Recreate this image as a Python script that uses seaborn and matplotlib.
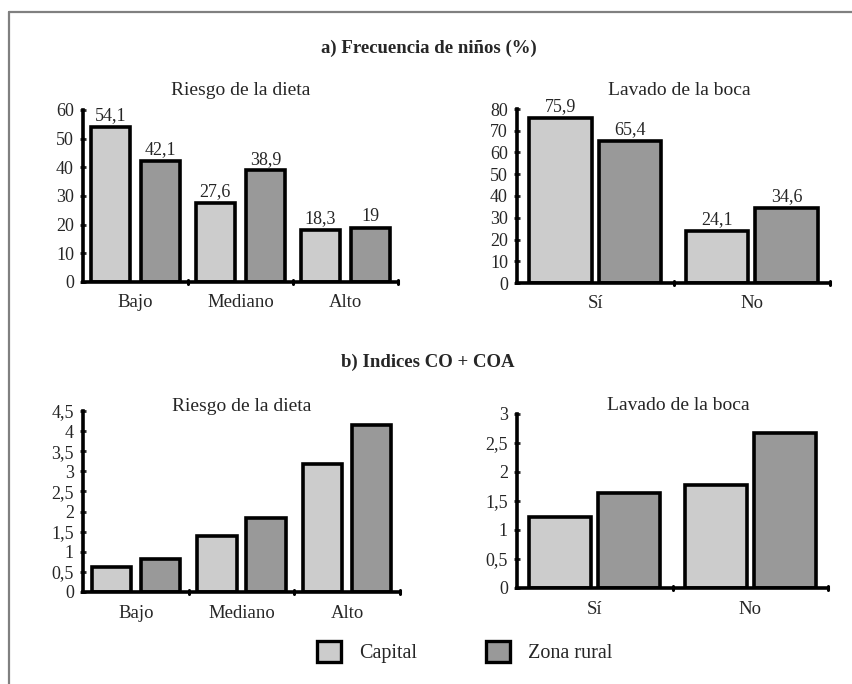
import matplotlib
matplotlib.use("Agg")
import matplotlib.pyplot as plt
import seaborn as sns
import pandas as pd
from matplotlib.patches import Patch
from matplotlib.lines import Line2D

sns.set_style("white")
plt.rcParams['font.family'] = ['Liberation Serif', 'DejaVu Serif']

groups = ["Capital", "Zona rural"]
diet_cats = ["Bajo", "Mediano", "Alto"]
wash_cats = ["Sí", "No"]

freq_diet_capital = [54.1, 27.6, 18.3]
freq_diet_rural = [42.1, 38.9, 19.0]
freq_wash_capital = [75.9, 24.1]
freq_wash_rural = [65.4, 34.6]

idx_diet_capital = [0.63, 1.38, 3.18]
idx_diet_rural = [0.83, 1.85, 4.15]
idx_wash_capital = [1.22, 1.77]
idx_wash_rural = [1.63, 2.67]

colors = {"Capital": "#cccccc", "Zona rural": "#999999"}


def fmt(v):
    s = f"{v:g}"
    return s.replace(".", ",")


def long_df(cats, cap, rur):
    return pd.DataFrame({
        "cat": cats * 2,
        "grupo": ["Capital"] * len(cats) + ["Zona rural"] * len(cats),
        "val": list(cap) + list(rur),
    })


fig = plt.figure(figsize=(8.52, 6.84), dpi=100)

# partial frame (left and top)
fig.add_artist(Line2D([8.5 / 852, 8.5 / 852], [0, 1 - 12 / 684], transform=fig.transFigure,
                      color="#808080", lw=1.6))
fig.add_artist(Line2D([8.5 / 852, 1], [1 - 12 / 684, 1 - 12 / 684], transform=fig.transFigure,
                      color="#808080", lw=1.6))


def px_axes(x0, x1, ytop, ybot):
    return fig.add_axes([x0 / 852, 1 - ybot / 684, (x1 - x0) / 852, (ybot - ytop) / 684])


def draw(ax, cats, cap, rur, ymax, ticks, width, gap, title, title_pad, title_x, labels):
    df = long_df(cats, cap, rur)
    sns.barplot(data=df, x="cat", y="val", hue="grupo", order=cats, hue_order=groups,
                palette=colors, width=width, gap=gap, edgecolor="black", linewidth=2.6,
                legend=False, ax=ax, saturation=1)
    ax.set_ylim(0, ymax)
    ax.set_xlim(-0.5, len(cats) - 0.5)
    ax.set_yticks(ticks)
    ax.set_yticklabels([fmt(t) for t in ticks], fontsize=13)
    ax.set_xticks([i for i in range(len(cats))])
    ax.set_xticklabels(cats, fontsize=13.5)
    ax.tick_params(axis="x", length=0, pad=9)
    ax.tick_params(axis="y", direction="inout", length=5, width=2, left=True, pad=4)
    # category separators on x-axis
    for b in range(1, len(cats) + 1):
        ax.add_line(Line2D([b - 0.5, b - 0.5], [-0.012 * ymax, 0.012 * ymax], color="black", lw=2.2,
                           clip_on=False))
    for s in ["top", "right"]:
        ax.spines[s].set_visible(False)
    for s in ["left", "bottom"]:
        ax.spines[s].set_linewidth(2.6)
        ax.spines[s].set_color("black")
    ax.set_xlabel("")
    ax.set_ylabel("")
    ax.set_title(title, fontsize=14, pad=title_pad, x=title_x)
    ax.grid(False)
    if labels:
        for cont in ax.containers:
            ax.bar_label(cont, labels=[fmt(v) for v in cont.datavalues], fontsize=13, padding=2)


ax1 = px_axes(83, 398, 110, 282)
draw(ax1, diet_cats, freq_diet_capital, freq_diet_rural, 60, list(range(0, 61, 10)),
     0.96, 0.22, "Riesgo de la dieta", 11, 0.5, True)

ax2 = px_axes(517, 830, 109, 283)
draw(ax2, wash_cats, freq_wash_capital, freq_wash_rural, 80, list(range(0, 81, 10)),
     0.89, 0.1, "Lavado de la boca", 10, 0.52, True)

ax3 = px_axes(83, 400, 411, 592)
draw(ax3, diet_cats, idx_diet_capital, idx_diet_rural, 4.5, [0, 0.5, 1, 1.5, 2, 2.5, 3, 3.5, 4, 4.5],
     0.93, 0.2, "Riesgo de la dieta", 0, 0.5, False)

ax4 = px_axes(517, 828, 414, 588)
draw(ax4, wash_cats, idx_wash_capital, idx_wash_rural, 3, [0, 0.5, 1, 1.5, 2, 2.5, 3],
     0.89, 0.1, "Lavado de la boca", 3, 0.52, False)

fig.text(429 / 852, 1 - 48 / 684, "a) Frecuencia de niños (%)", ha="center", va="center",
         fontsize=13.5, fontweight="bold")
fig.text(428 / 852, 1 - 362 / 684, "b) Indices CO + COA", ha="center", va="center",
         fontsize=13.5, fontweight="bold")

handles = [Patch(facecolor=colors[g], edgecolor="black", linewidth=2.4, label=g) for g in groups]
fig.legend(handles=handles, loc="center", bbox_to_anchor=(465 / 852, 1 - 652 / 684), ncol=2,
           frameon=False, fontsize=14.5, handlelength=1.2, handleheight=1.2, columnspacing=3.4,
           handletextpad=0.9)

fig.savefig("out.png", dpi=100)
